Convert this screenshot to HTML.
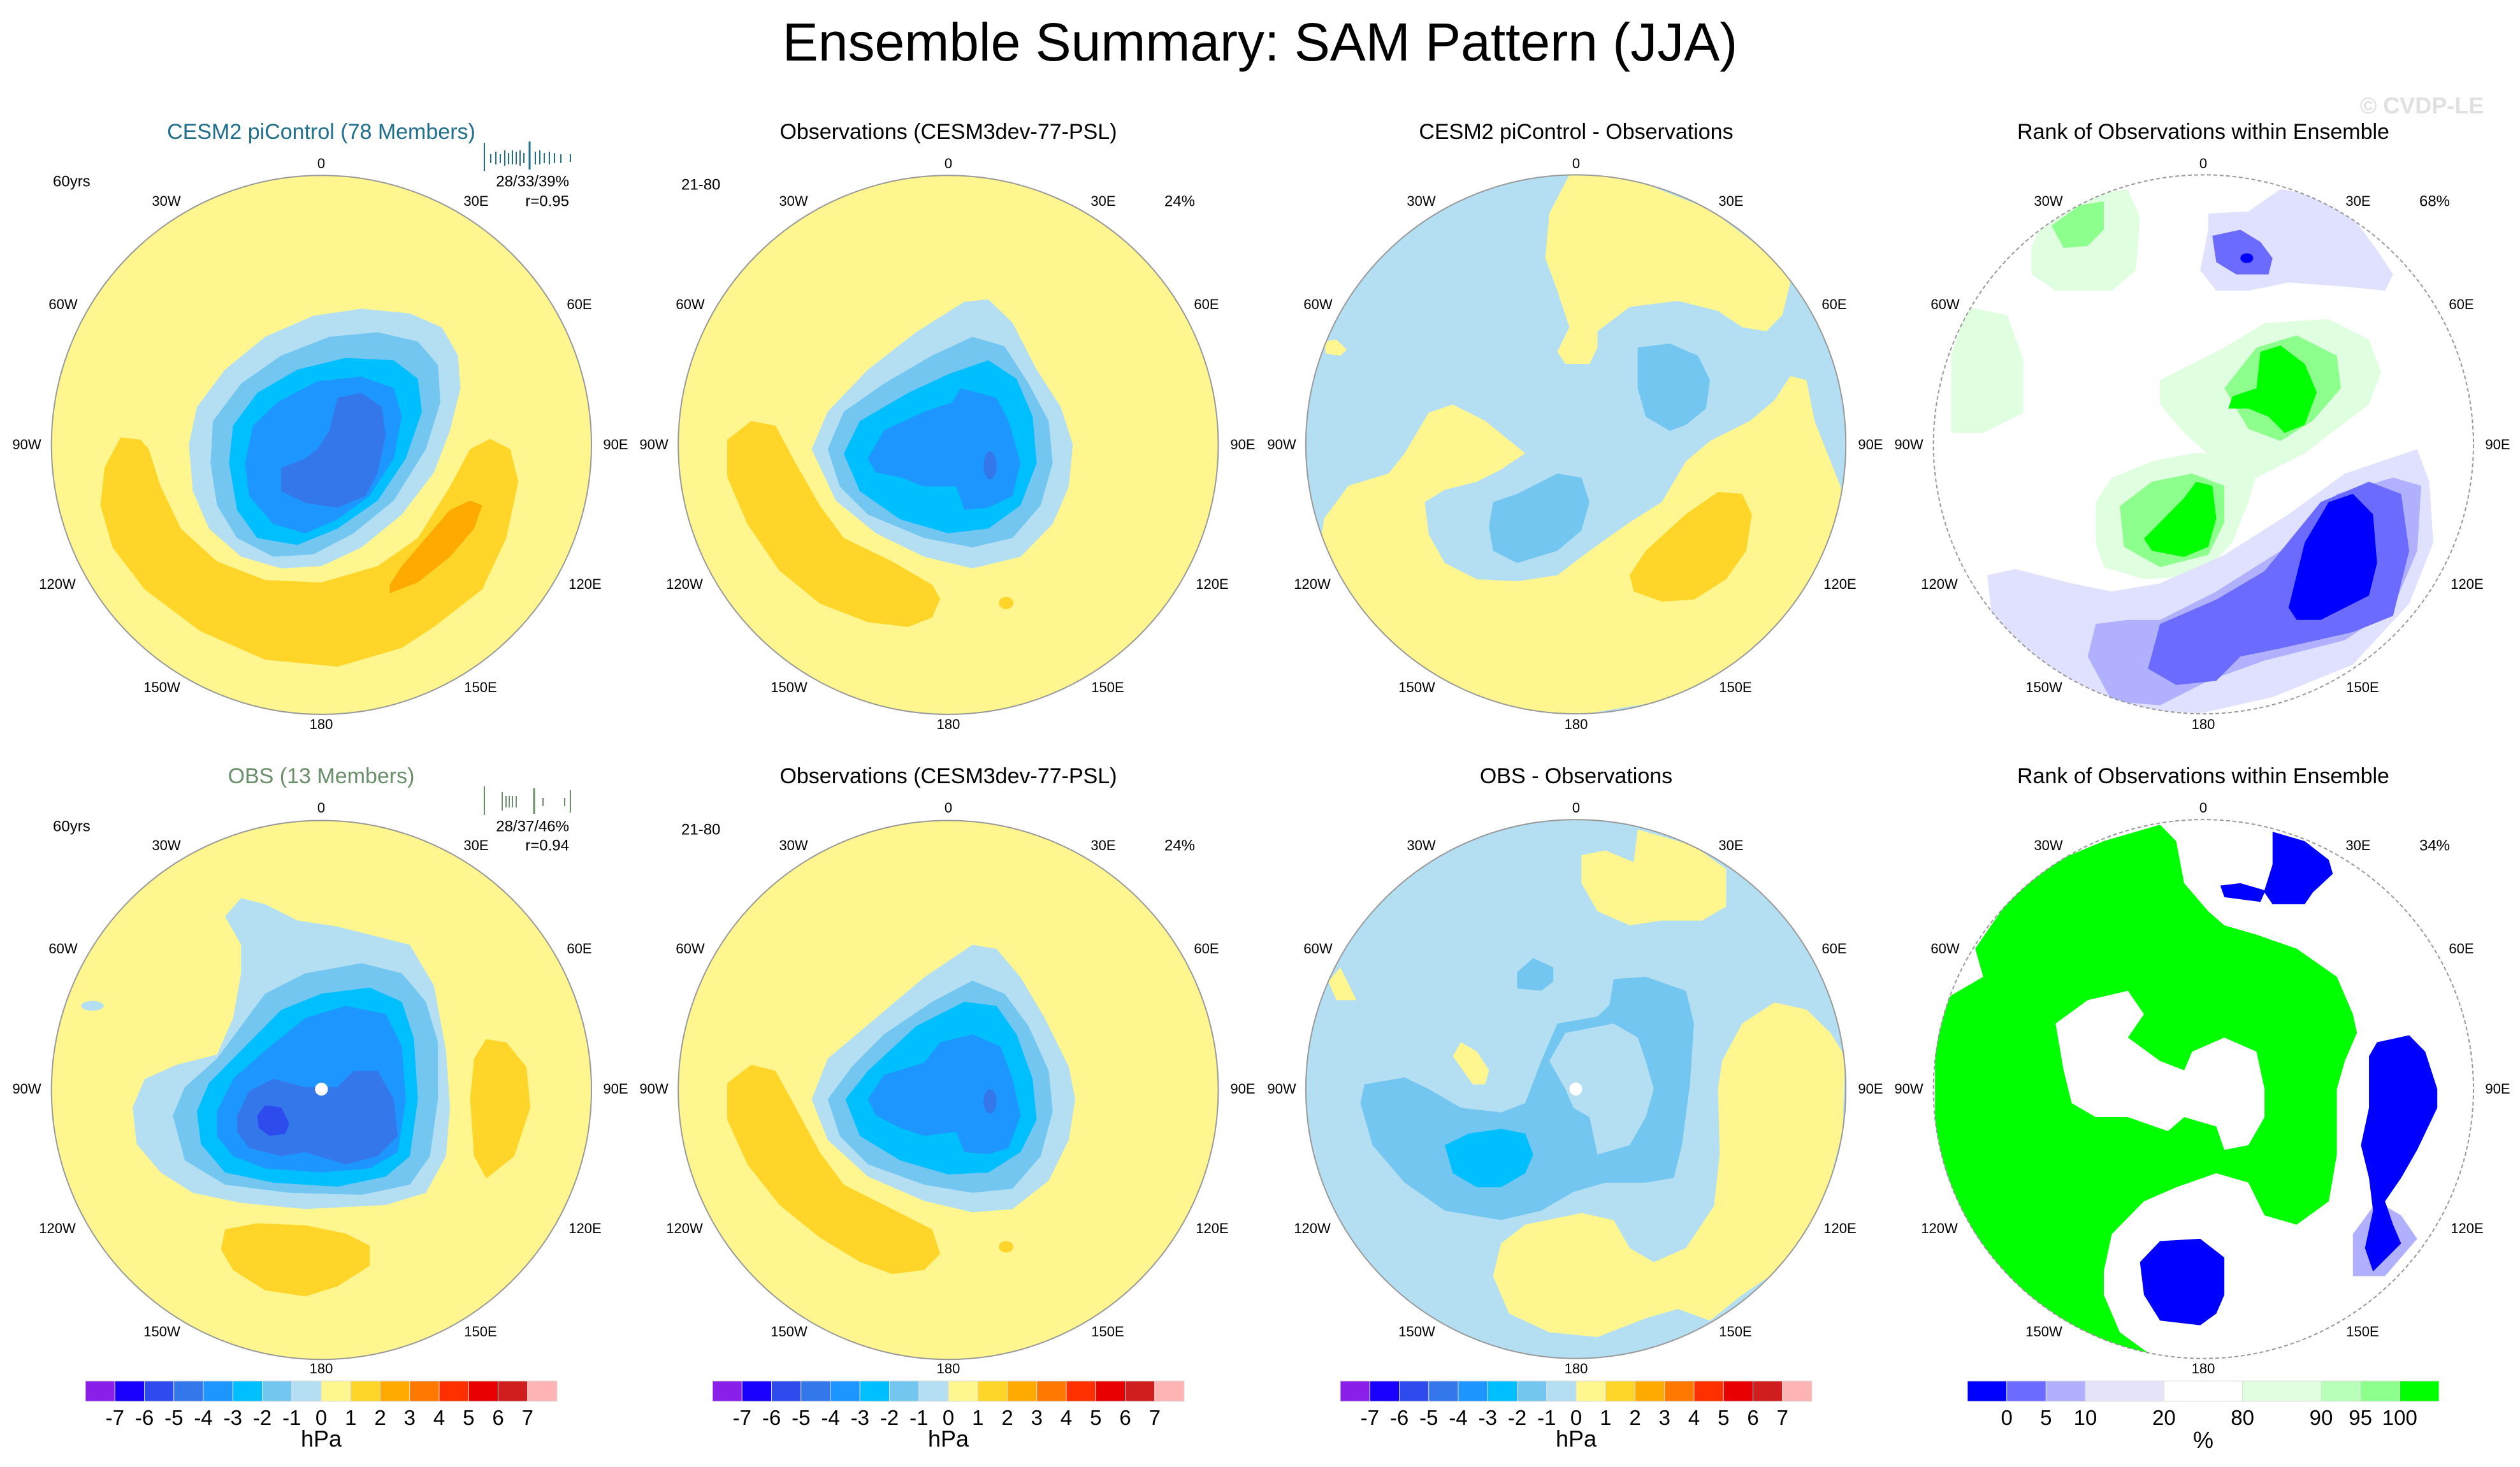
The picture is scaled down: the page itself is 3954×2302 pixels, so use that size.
<!DOCTYPE html>
<html><head><meta charset="utf-8"><style>
html,body{margin:0;padding:0;background:#fff;}
svg{display:block;font-family:"Liberation Sans",sans-serif;}
.lb{font-size:22px;fill:#000;text-anchor:middle;dominant-baseline:middle;}
.tt{font-size:34px;text-anchor:middle;dominant-baseline:middle;}
.ol{fill:none;stroke:#999;stroke-width:2;vector-effect:non-scaling-stroke;}
.cb{font-size:33px;text-anchor:middle;}
</style></head><body>
<svg id="fig" width="3954" height="2302" viewBox="0 0 3954 2302" xmlns="http://www.w3.org/2000/svg">
<defs>
<clipPath id="c11" clipPathUnits="userSpaceOnUse"><ellipse cx="400" cy="951" rx="336" ry="576"/></clipPath>
<clipPath id="c12" clipPathUnits="userSpaceOnUse"><ellipse cx="1180" cy="951" rx="336" ry="576"/></clipPath>
<clipPath id="c13" clipPathUnits="userSpaceOnUse"><ellipse cx="393" cy="858" rx="336" ry="663"/></clipPath>
<clipPath id="c14" clipPathUnits="userSpaceOnUse"><ellipse cx="1174" cy="858" rx="336" ry="663"/></clipPath>
<clipPath id="c21" clipPathUnits="userSpaceOnUse"><ellipse cx="400" cy="877" rx="336" ry="663"/></clipPath>
<clipPath id="c22" clipPathUnits="userSpaceOnUse"><ellipse cx="1180" cy="877" rx="336" ry="663"/></clipPath>
<clipPath id="c23" clipPathUnits="userSpaceOnUse"><ellipse cx="393" cy="760" rx="336" ry="576"/></clipPath>
<clipPath id="c24" clipPathUnits="userSpaceOnUse"><ellipse cx="1174" cy="760" rx="336" ry="576"/></clipPath>
</defs>

<text x="1977" y="95" font-size="84" text-anchor="middle">Ensemble Summary: SAM Pattern (JJA)</text>
<text x="3800" y="178" font-size="36" font-weight="bold" fill="#e0e0e0" text-anchor="middle">© CVDP-LE</text>

<!-- Row 1 col 1 -->
<g transform="scale(1.2609,0.7341)">
<g clip-path="url(#c11)">
<ellipse cx="400" cy="951" rx="336" ry="576" fill="#FFF68F"/>
<polygon fill="#FFD52A" points="150,935 130,1000 125,1080 140,1170 180,1260 250,1350 330,1410 420,1425 500,1385 540,1340 600,1260 630,1150 645,1030 635,960 610,938 585,960 560,1040 520,1150 470,1210 400,1245 330,1240 270,1200 225,1130 200,1040 185,960 175,940"/>
<polygon fill="#FFAA00" points="485,1268 520,1245 560,1190 590,1130 600,1080 585,1070 560,1090 530,1150 500,1210 485,1250"/>
<polygon fill="#B4DFF3" points="235,950 245,870 280,790 330,720 390,675 450,660 510,670 550,700 570,760 573,830 560,920 540,1010 500,1100 450,1170 400,1210 350,1215 300,1190 260,1130 240,1050"/>
<polygon fill="#73C6F0" points="262,990 265,900 300,820 350,760 410,720 470,710 520,730 545,780 548,860 530,960 490,1070 440,1140 390,1185 340,1190 295,1150 270,1080"/>
<polygon fill="#00BFFF" points="285,990 290,910 320,840 370,790 430,765 490,770 520,810 525,880 505,980 470,1070 420,1130 370,1165 320,1150 295,1090"/>
<polygon fill="#1E96FF" points="305,990 315,910 345,860 395,815 450,805 490,830 500,890 490,980 460,1060 420,1110 380,1140 340,1120 310,1060"/>
<polygon fill="#3477EA" points="350,1050 350,1000 380,980 395,960 410,920 420,850 450,840 475,870 480,930 470,1010 455,1060 420,1085 380,1075"/>
</g>
<ellipse class="ol" cx="400" cy="951" rx="336" ry="576"/>
</g>

<!-- Row 1 col 2 -->
<g transform="scale(1.2609,0.7341)">
<g clip-path="url(#c12)">
<ellipse cx="1180" cy="951" rx="336" ry="576" fill="#FFF68F"/>
<polygon fill="#FFD52A" points="935,900 905,940 905,1020 930,1120 970,1220 1020,1290 1080,1330 1130,1340 1160,1320 1170,1280 1160,1250 1110,1200 1050,1150 1020,1080 990,990 965,910"/>
<ellipse cx="1252" cy="1289" rx="9" ry="13" fill="#FFD52A"/>
<polygon fill="#B4DFF3" points="1010,960 1030,880 1080,790 1140,710 1200,645 1230,640 1260,690 1290,790 1320,870 1335,950 1330,1040 1310,1120 1270,1190 1210,1215 1150,1190 1090,1140 1040,1070"/>
<polygon fill="#73C6F0" points="1030,960 1050,880 1100,820 1160,760 1210,720 1250,740 1280,820 1305,900 1310,990 1295,1080 1260,1150 1210,1170 1150,1150 1080,1100 1045,1040"/>
<polygon fill="#00BFFF" points="1050,970 1070,900 1130,840 1180,800 1230,770 1265,810 1285,890 1290,990 1270,1080 1230,1130 1180,1140 1120,1110 1070,1050"/>
<polygon fill="#1E96FF" points="1080,980 1100,920 1150,880 1185,860 1195,830 1240,850 1255,900 1270,990 1260,1060 1230,1085 1200,1090 1190,1040 1150,1040 1120,1020 1090,1010"/>
<ellipse cx="1232" cy="995" rx="8" ry="30" fill="#3477EA"/>
</g>
<ellipse class="ol" cx="1180" cy="951" rx="336" ry="576"/>
</g>

<!-- Row 1 col 3 -->
<g transform="translate(1977,150) scale(1.2609,0.6378)">
<g clip-path="url(#c13)">
<ellipse cx="393" cy="858" rx="336" ry="663" fill="#B4DFF3"/>
<polygon fill="#FFF68F" points="385,195 360,290 355,400 370,480 385,570 370,630 380,660 410,660 420,620 420,580 460,520 520,505 570,530 600,570 630,580 650,540 660,460 640,400 560,280 470,210 440,200"/>
<polygon fill="#FFF68F" points="210,780 180,880 160,930 110,960 80,1040 75,1100 100,1300 180,1450 300,1520 393,1525 500,1490 580,1420 650,1300 700,1150 730,1000 690,800 680,700 660,690 640,750 610,800 560,850 530,900 500,1000 460,1050 410,1120 370,1180 320,1195 270,1190 230,1150 210,1080 205,1000 230,970 270,950 300,920 330,880 305,840 280,800 240,760"/>
<polygon fill="#FFF68F" points="80,605 95,600 108,625 100,640 82,635"/>
<polygon fill="#73C6F0" points="470,620 510,610 545,640 560,700 555,770 530,810 510,825 480,790 470,720"/>
<polygon fill="#73C6F0" points="290,1000 320,980 370,930 400,940 410,1000 400,1070 370,1120 320,1150 290,1120 285,1060"/>
<polygon fill="#FFD52A" points="460,1180 480,1120 530,1030 570,975 600,980 612,1030 605,1120 580,1190 540,1240 500,1245 465,1220"/>
</g>
<ellipse class="ol" cx="393" cy="858" rx="336" ry="663"/>
</g>

<!-- Row 1 col 4 -->
<g transform="translate(1977,150) scale(1.2609,0.6378)">
<g clip-path="url(#c14)">
<ellipse cx="1174" cy="858" rx="336" ry="663" fill="#fff"/>
<polygon fill="#E0FFE0" points="1040,1000 1060,940 1110,900 1160,880 1200,880 1240,930 1230,1000 1210,1100 1170,1180 1100,1190 1050,1160 1040,1100"/>
<polygon fill="#8CFF8C" points="1070,1010 1110,950 1160,930 1200,960 1200,1050 1180,1130 1120,1160 1075,1110"/>
<polygon fill="#00FF00" points="1100,1090 1120,1050 1150,990 1165,950 1185,960 1190,1040 1180,1110 1150,1135 1110,1120"/>
<polygon fill="#E0FFE0" points="1120,700 1200,620 1250,560 1330,550 1380,600 1395,680 1380,760 1340,820 1300,880 1240,940 1190,900 1150,830 1120,760"/>
<polygon fill="#8CFF8C" points="1200,720 1240,620 1290,590 1340,640 1345,720 1310,800 1270,850 1230,820"/>
<polygon fill="#00FF00" points="1210,740 1240,720 1245,630 1270,615 1300,660 1315,730 1300,810 1275,830 1255,790 1230,770 1205,770"/>
<polygon fill="#E0FFE0" points="960,370 980,290 1020,250 1080,230 1095,300 1090,430 1060,480 990,480 960,440"/>
<polygon fill="#8CFF8C" points="985,320 1020,270 1050,260 1050,330 1030,370 1000,375"/>
<polygon fill="#E0FFE0" points="860,640 880,520 930,540 950,650 950,780 900,830 860,830"/>
<polygon fill="#E0E0FF" points="905,1180 940,1165 1010,1200 1060,1220 1120,1200 1200,1130 1280,1030 1350,930 1440,870 1455,950 1460,1100 1430,1250 1360,1400 1260,1480 1170,1520 1080,1510 1010,1460 950,1370 910,1270"/>
<polygon fill="#E0E0FF" points="1180,330 1180,290 1230,285 1270,230 1320,250 1360,300 1390,380 1410,440 1400,480 1350,470 1280,460 1230,480 1190,480 1170,430"/>
<polygon fill="#B0B0FF" points="1030,1380 1040,1300 1080,1290 1120,1290 1190,1220 1270,1120 1340,980 1410,940 1445,960 1440,1120 1410,1260 1350,1340 1250,1390 1180,1440 1120,1500 1060,1490"/>
<polygon fill="#6B6BFF" points="1105,1410 1120,1300 1190,1240 1250,1170 1320,1000 1380,950 1420,980 1430,1120 1410,1280 1360,1320 1270,1360 1220,1380 1190,1440 1140,1450"/>
<polygon fill="#0000FF" points="1280,1260 1290,1180 1300,1100 1330,1000 1360,980 1385,1030 1390,1150 1380,1230 1350,1260 1320,1290 1290,1290"/>
<polygon fill="#6B6BFF" points="1185,345 1220,330 1245,360 1260,400 1255,440 1215,440 1190,410"/>
<ellipse cx="1228" cy="400" rx="8" ry="12" fill="#0000FF"/>
</g>
<ellipse class="ol" cx="1174" cy="858" rx="336" ry="663" stroke-dasharray="6,4"/>
</g>

<!-- Row 2 col 1 -->
<g transform="translate(0,1151) scale(1.2609,0.6378)">
<g clip-path="url(#c21)">
<ellipse cx="400" cy="877" rx="336" ry="663" fill="#FFF68F"/>
<polygon fill="#FFD52A" points="605,752 590,800 585,900 590,1040 605,1095 640,1040 660,920 655,820 630,760"/>
<polygon fill="#FFD52A" points="280,1220 320,1205 380,1210 430,1230 460,1260 460,1310 420,1360 380,1385 330,1370 290,1320 275,1270"/>
<polygon fill="#B4DFF3" points="300,405 280,450 300,520 300,590 290,700 270,790 220,815 180,850 165,920 170,1010 200,1080 240,1130 300,1155 380,1170 480,1160 530,1130 555,1040 560,920 555,780 540,620 510,520 420,475 370,460 330,420"/>
<ellipse cx="115" cy="670" rx="14" ry="12" fill="#B4DFF3"/>
<polygon fill="#73C6F0" points="215,940 230,870 270,800 300,720 330,640 380,590 450,565 500,590 530,660 545,760 545,900 535,1040 510,1110 450,1135 360,1130 280,1110 230,1050"/>
<polygon fill="#00BFFF" points="245,930 260,860 310,760 350,680 400,640 460,625 500,660 515,750 520,900 510,1040 480,1090 420,1115 340,1105 280,1080 250,1010"/>
<polygon fill="#1E96FF" points="270,930 290,850 330,780 380,700 430,670 480,690 500,770 505,900 495,1030 460,1070 400,1080 330,1070 290,1040 270,990"/>
<polygon fill="#3477EA" points="295,940 310,880 340,850 380,870 420,870 440,830 470,830 490,900 495,990 470,1040 430,1060 380,1030 350,1040 310,1020 295,980"/>
<polygon fill="#2E4BEE" points="320,940 330,915 350,920 360,960 355,985 335,990 322,970"/>
<ellipse cx="400" cy="875" rx="8" ry="16" fill="#fff"/>
</g>
<ellipse class="ol" cx="400" cy="877" rx="336" ry="663"/>
</g>

<!-- Row 2 col 2 -->
<g transform="translate(0,1151) scale(1.2609,0.6378)">
<g clip-path="url(#c22)">
<ellipse cx="1180" cy="877" rx="336" ry="663" fill="#FFF68F"/>
<polygon fill="#FFD52A" points="935,815 905,860 905,950 930,1060 970,1160 1020,1240 1070,1300 1110,1330 1150,1320 1170,1280 1160,1220 1110,1170 1050,1110 1020,1030 990,920 965,830"/>
<ellipse cx="1252" cy="1263" rx="9" ry="14" fill="#FFD52A"/>
<polygon fill="#B4DFF3" points="1010,900 1030,800 1090,700 1150,600 1210,520 1240,530 1270,600 1300,700 1330,820 1338,900 1330,1000 1305,1100 1260,1170 1210,1178 1150,1150 1080,1090 1030,1000"/>
<polygon fill="#73C6F0" points="1030,900 1060,820 1100,740 1160,660 1210,608 1250,640 1280,720 1305,830 1310,930 1295,1040 1260,1120 1210,1130 1150,1110 1080,1060 1045,990"/>
<polygon fill="#00BFFF" points="1052,900 1080,830 1140,720 1200,660 1240,670 1265,740 1285,850 1290,950 1270,1030 1230,1080 1180,1085 1120,1050 1070,990"/>
<polygon fill="#1E96FF" points="1080,900 1100,840 1150,810 1170,760 1210,740 1245,770 1260,850 1270,940 1255,1020 1230,1035 1200,1030 1190,980 1150,990 1120,970 1090,940"/>
<ellipse cx="1232" cy="905" rx="8" ry="30" fill="#3477EA"/>
</g>
<ellipse class="ol" cx="1180" cy="877" rx="336" ry="663"/>
</g>

<!-- Row 2 col 3 -->
<g transform="translate(1977,1151) scale(1.2609,0.7341)">
<g clip-path="url(#c23)">
<ellipse cx="393" cy="760" rx="336" ry="576" fill="#B4DFF3"/>
<polygon fill="#FFF68F" points="400,260 430,250 465,275 470,205 540,240 580,290 580,370 550,400 500,400 460,410 420,380 400,320"/>
<polygon fill="#FFF68F" points="570,760 575,700 600,620 640,575 680,590 710,640 728,690 725,850 710,950 690,1040 660,1130 600,1200 560,1255 520,1230 480,1250 420,1290 360,1280 310,1240 290,1160 300,1090 330,1050 400,1025 440,1040 460,1100 490,1130 530,1100 565,1010 572,900"/>
<polygon fill="#FFF68F" points="240,690 250,660 270,680 285,720 280,750 265,750"/>
<polygon fill="#FFF68F" points="85,530 100,500 120,570 95,570"/>
<polygon fill="#73C6F0" points="125,790 130,750 180,735 210,760 250,800 300,810 330,790 350,700 370,620 420,605 435,580 440,525 480,520 530,550 540,620 535,750 525,880 515,950 480,960 430,960 390,980 350,1020 300,1040 230,1020 180,960 140,880"/>
<polygon fill="#B4DFF3" points="380,640 440,620 470,650 480,700 490,760 480,820 460,880 420,900 410,820 390,800 380,760 360,700"/>
<polygon fill="#73C6F0" points="320,510 340,480 365,500 365,530 350,550 320,545"/>
<polygon fill="#00BFFF" points="230,880 260,855 300,845 330,855 340,900 330,940 300,970 270,970 240,940"/>
<ellipse cx="393" cy="760" rx="8" ry="14" fill="#fff"/>
</g>
<ellipse class="ol" cx="393" cy="760" rx="336" ry="576"/>
</g>

<!-- Row 2 col 4 -->
<g transform="translate(1977,1151) scale(1.2609,0.7341)">
<g clip-path="url(#c24)">
<ellipse cx="1174" cy="760" rx="336" ry="576" fill="#fff"/>
<polygon fill="#00FF00" points="840,600 860,560 900,520 890,460 930,360 980,280 1050,230 1120,195 1140,230 1150,320 1180,380 1200,410 1240,430 1290,460 1340,520 1360,600 1365,640 1350,700 1340,760 1340,900 1330,1000 1290,1050 1250,1030 1230,960 1190,940 1140,970 1100,1000 1060,1070 1050,1150 1050,1200 1070,1280 1110,1330 1080,1320 1000,1260 930,1170 880,1080 850,960 840,850"/>
<polygon fill="#fff" points="1000,720 990,620 1030,570 1080,550 1100,600 1080,650 1120,700 1150,720 1160,680 1200,650 1240,680 1250,760 1250,820 1230,880 1200,890 1190,840 1150,820 1130,850 1080,820 1040,820 1010,790"/>
<polygon fill="#B0B0FF" points="1360,1070 1390,1000 1420,1030 1440,1080 1400,1160 1360,1160"/>
<polygon fill="#0000FF" points="1195,325 1220,320 1250,335 1260,280 1260,210 1300,230 1330,270 1335,300 1310,340 1300,365 1260,365 1250,340 1245,360 1200,350"/>
<polygon fill="#0000FF" points="1380,690 1390,660 1430,645 1450,680 1465,760 1465,800 1440,890 1420,950 1400,1000 1410,1050 1420,1090 1385,1150 1375,1100 1385,1020 1380,950 1370,880 1380,800"/>
<polygon fill="#0000FF" points="1095,1130 1120,1085 1170,1080 1200,1120 1200,1200 1190,1240 1170,1265 1120,1255 1100,1200"/>
</g>
<ellipse class="ol" cx="1174" cy="760" rx="336" ry="576" stroke-dasharray="6,4"/>
</g>

<!-- histograms -->
<g stroke="#1F6E8C" stroke-width="2">
<line x1="760" y1="224" x2="760" y2="268"/>
<line x1="831" y1="222" x2="831" y2="266" stroke-width="3"/>
<line x1="770" y1="242" x2="770" y2="256"/><line x1="778" y1="238" x2="778" y2="258"/><line x1="785" y1="242" x2="785" y2="256"/>
<line x1="792" y1="236" x2="792" y2="260"/><line x1="798" y1="240" x2="798" y2="258"/><line x1="804" y1="236" x2="804" y2="258"/>
<line x1="810" y1="238" x2="810" y2="258"/><line x1="816" y1="236" x2="816" y2="260"/><line x1="822" y1="240" x2="822" y2="256"/>
<line x1="840" y1="238" x2="840" y2="258"/><line x1="847" y1="236" x2="847" y2="258"/><line x1="854" y1="240" x2="854" y2="256"/>
<line x1="862" y1="238" x2="862" y2="258"/><line x1="870" y1="240" x2="870" y2="256"/><line x1="880" y1="242" x2="880" y2="256"/><line x1="895" y1="242" x2="895" y2="254"/>
</g>
<g stroke="#6A8F6A" stroke-width="2">
<line x1="760" y1="1234" x2="760" y2="1279"/>
<line x1="788" y1="1243" x2="788" y2="1272"/><line x1="794" y1="1249" x2="794" y2="1267"/><line x1="799" y1="1249" x2="799" y2="1267"/><line x1="804" y1="1249" x2="804" y2="1267"/><line x1="810" y1="1249" x2="810" y2="1267"/>
<line x1="838" y1="1237" x2="838" y2="1277" stroke-width="3"/>
<line x1="852" y1="1252" x2="852" y2="1265"/><line x1="886" y1="1252" x2="886" y2="1265"/><line x1="895" y1="1240" x2="895" y2="1275"/>
</g>

<g id="texts"></g>
<g id="colorbars"></g>
</svg>
<script>
const svgNS = "http://www.w3.org/2000/svg";
const hpaLevels = ["-7","-6","-5","-4","-3","-2","-1","0","1","2","3","4","5","6","7"];
const hpaColors = ["#8B1FEA","#1A00FF","#2E4BEE","#3477EA","#1E96FF","#00BFFF","#73C6F0","#B4DFF3","#FFF68F","#FFD52A","#FFAA00","#FF7800","#FF3000","#E80000","#D01E1E","#FFB4B4"];
const rankLabels = ["0","5","10","20","80","90","95","100"];
const rankColors = ["#0000FF","#6B6BFF","#B0B0FF","#E3E3FA","#FFFFFF","#E0FFE0","#B8FFB8","#8CFF8C","#00FF00"];
const rankUnits = [1,1,1,2,2,2,1,1,1];
const colCenters = [504, 1488, 2473, 3457];
const rowCenters = [699, 1710];
const titles = [["CESM2 piControl (78 Members)","Observations (CESM3dev-77-PSL)","CESM2 piControl - Observations","Rank of Observations within Ensemble"],
                ["OBS (13 Members)","Observations (CESM3dev-77-PSL)","OBS - Observations","Rank of Observations within Ensemble"]];
const titleColors = [["#1F6E8C","#000","#000","#000"],["#6A8F6A","#000","#000","#000"]];
const lonLabels = ["0","30W","30E","60W","60E","90W","90E","120W","120E","150W","150E","180"];
const lonOffsets = [[0,-441],[-243,-382],[243,-382],[-405,-220],[405,-220],[-462,0],[462,0],[-414,219],[414,219],[-250,381],[250,381],[0,439]];

const T = document.getElementById('texts');
function txt(x,y,s,cls,extra){
  const t = document.createElementNS(svgNS,'text');
  t.setAttribute('x',x); t.setAttribute('y',y);
  if(cls) t.setAttribute('class',cls);
  if(extra) for(const k in extra) t.setAttribute(k,extra[k]);
  t.textContent = s;
  T.appendChild(t);
  return t;
}
for(let r=0;r<2;r++){
  for(let c=0;c<4;c++){
    const cx = colCenters[c], cy = rowCenters[r];
    const tt = txt(cx, cy-490, titles[r][c], 'tt', {fill:titleColors[r][c]});
    
    
    for(let i=0;i<lonLabels.length;i++){
      const l = txt(cx+lonOffsets[i][0], cy+lonOffsets[i][1], lonLabels[i], 'lb');
      
      
    }
  }
}
const corner = [
  [83,286,"60yrs","start"],[893,286,"28/33/39%","end"],[893,317,"r=0.95","end"],
  [1069,291,"21-80","start"],[1851,317,"24%","middle"],[3820,317,"68%","middle"],
  [83,1298,"60yrs","start"],[893,1298,"28/37/46%","end"],[893,1328,"r=0.94","end"],
  [1069,1303,"21-80","start"],[1851,1328,"24%","middle"],[3820,1328,"34%","middle"]];
corner.forEach(a=>{
  const t = txt(a[0],a[1],a[2],null,{'font-size':'24','text-anchor':a[3],'dominant-baseline':'middle'});
  
  
});

const CB = document.getElementById('colorbars');
const cbY = 2167, cbH = 32, cbW = 740;
function rect(x,y,w,h,f){
  const e = document.createElementNS(svgNS,'rect');
  e.setAttribute('x',x); e.setAttribute('y',y); e.setAttribute('width',w); e.setAttribute('height',h);
  e.setAttribute('fill',f); e.setAttribute('stroke','#ddd'); e.setAttribute('stroke-width','1');
  CB.appendChild(e); return e;
}
function cbText(x,y,s,size){
  const t = document.createElementNS(svgNS,'text');
  t.setAttribute('x',x); t.setAttribute('y',y); t.setAttribute('font-size',size); t.setAttribute('text-anchor','middle');
  t.textContent = s; CB.appendChild(t); return t;
}
for(let c=0;c<3;c++){
  const x0 = colCenters[c]-cbW/2, bw = cbW/hpaColors.length;
  hpaColors.forEach((col,i)=>{
    const b = rect(x0+i*bw, cbY, bw, cbH, col);
    
    
  });
  hpaLevels.forEach((s,i)=>{
    const t = cbText(x0+(i+1)*bw, 2236, s, 33);
    
    
  });
  const u = cbText(colCenters[c], 2270, 'hPa', 36);
  
  
}
{
  const total = rankUnits.reduce((a,b)=>a+b,0), unit = cbW/total;
  let x = colCenters[3]-cbW/2;
  const bounds = [];
  rankColors.forEach((col,i)=>{
    const w = rankUnits[i]*unit;
    const b = rect(x, cbY, w, cbH, col);
    
    
    x += w; bounds.push(x);
  });
  rankLabels.forEach((s,i)=>{
    const t = cbText(bounds[i], 2236, s, 33);
    
    
  });
  const u = cbText(colCenters[3], 2272, '%', 36);
  
  
}
</script>
</body></html>
